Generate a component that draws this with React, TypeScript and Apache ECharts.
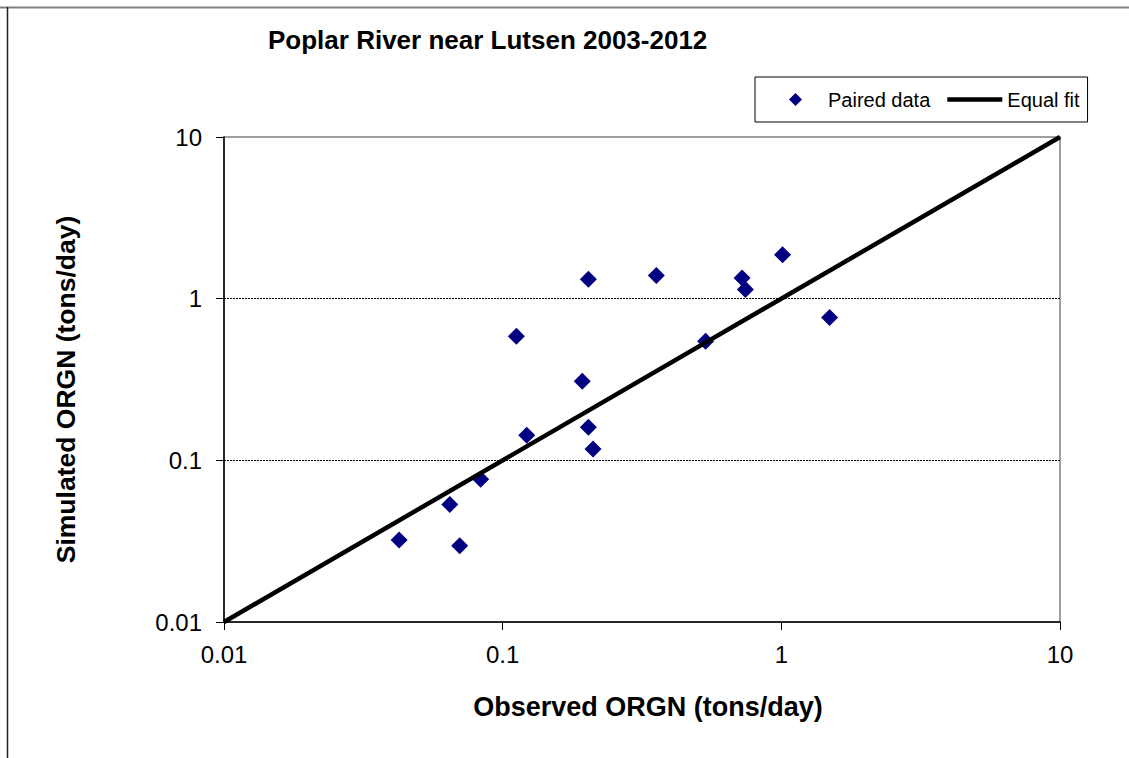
import React, { useEffect, useRef } from "react";
import * as echarts from "echarts";

const titleText = "Poplar River near Lutsen 2003-2012";
const xAxisTitle = "Observed ORGN (tons/day)";
const yAxisTitle = "Simulated ORGN (tons/day)";
const seriesNames = ["Paired data", "Equal fit"];

const observed = [0.0425, 0.0646, 0.0701, 0.0834, 0.112, 0.122, 0.193, 0.203, 0.203, 0.211, 0.356, 0.535, 0.723, 0.743, 1.01, 1.49];
const simulated = [0.0321, 0.0534, 0.0296, 0.0765, 0.585, 0.143, 0.308, 1.32, 0.16, 0.1175, 1.39, 0.545, 1.34, 1.14, 1.87, 0.765];
const equalFitX = [0.01, 10];
const equalFitY = [0.01, 10];
const axisMin = 0.01;
const axisMax = 10;

const FONT = "Arial, 'Liberation Sans', sans-serif";

const fmt = (v: number) => String(parseFloat(Number(v).toPrecision(6)));

export default function App() {
  const ref = useRef<HTMLDivElement>(null);
  useEffect(() => {
    document.body.style.margin = "0";
    const chart = echarts.init(ref.current!, null, { renderer: "svg" });
    const paired = observed.map((x, i) => [x, simulated[i]]);
    const fit = equalFitX.map((x, i) => [x, equalFitY[i]]);
    chart.setOption({
      animation: false,
      backgroundColor: "#ffffff",
      title: {
        text: titleText,
        left: 268,
        top: 27,
        padding: 0,
        textStyle: { fontFamily: FONT, fontSize: 26, fontWeight: "bold", color: "#000" },
      },
      legend: {
        left: 755,
        top: 77,
        padding: [12.5, 8, 12.5, 34],
        borderColor: "#000",
        borderWidth: 1,
        borderRadius: 0,
        itemGap: 17,
        itemWidth: 55,
        itemHeight: 13,
        symbolKeepAspect: true,
        textStyle: { fontFamily: FONT, fontSize: 20, color: "#000" },
        data: [
          { name: seriesNames[0], icon: "path://M0,-1L1,0L0,1L-1,0Z", itemStyle: { color: "#000080", opacity: 1 } },
          { name: seriesNames[1], icon: "path://M0,0H55V4.5H0Z", itemStyle: { color: "#000", opacity: 1 } },
        ],
      },
      grid: {
        left: 224,
        top: 137,
        right: 69,
        bottom: 136,
        show: true,
        borderColor: "#808080",
        borderWidth: 1.5,
        backgroundColor: "#fff",
      },
      xAxis: {
        type: "log",
        logBase: 10,
        min: axisMin,
        max: axisMax,
        name: xAxisTitle,
        nameLocation: "middle",
        nameGap: 71,
        nameTextStyle: { fontFamily: FONT, fontSize: 27, fontWeight: "bold", color: "#000", padding: [0, 0, 0, 12] },
        axisLine: { show: true, lineStyle: { color: "#000", width: 1.5 } },
        axisTick: { show: true, inside: false, length: 8, lineStyle: { color: "#000" } },
        axisLabel: { fontFamily: FONT, fontSize: 24, color: "#000", margin: 20, formatter: fmt },
        splitLine: { show: false },
      },
      yAxis: {
        type: "log",
        logBase: 10,
        min: axisMin,
        max: axisMax,
        name: yAxisTitle,
        nameLocation: "middle",
        nameGap: 145,
        nameRotate: 90,
        nameTextStyle: { fontFamily: FONT, fontSize: 26.5, fontWeight: "bold", color: "#000", padding: [0, 20, 0, 0] },
        axisLine: { show: true, lineStyle: { color: "#000", width: 1.5 } },
        axisTick: { show: true, inside: false, length: 8, lineStyle: { color: "#000" } },
        axisLabel: { fontFamily: FONT, fontSize: 24, color: "#000", margin: 22, formatter: fmt },
        splitLine: {
          show: true,
          showMinLine: false,
          showMaxLine: false,
          lineStyle: { color: "#000", width: 1, type: [2, 1] },
        },
      },
      graphic: [
        { type: "line", shape: { x1: 0, y1: 7.5, x2: 1129, y2: 7.5 }, style: { stroke: "#808080", lineWidth: 2 }, z: 100 },
        { type: "line", shape: { x1: 7.5, y1: 7, x2: 7.5, y2: 758 }, style: { stroke: "#222", lineWidth: 1.5 }, z: 100 },
      ],
      series: [
        {
          name: seriesNames[0],
          type: "scatter",
          symbol: "diamond",
          symbolSize: 17,
          itemStyle: { color: "#000080", opacity: 1 },
          data: paired,
          z: 2,
        },
        {
          name: seriesNames[1],
          type: "line",
          symbol: "none",
          showSymbol: false,
          lineStyle: { color: "#000", width: 4.5 },
          itemStyle: { color: "#000" },
          data: fit,
          z: 3,
        },
      ],
    });
    return () => chart.dispose();
  }, []);
  return <div ref={ref} style={{ width: 1129, height: 758 }} />;
}
